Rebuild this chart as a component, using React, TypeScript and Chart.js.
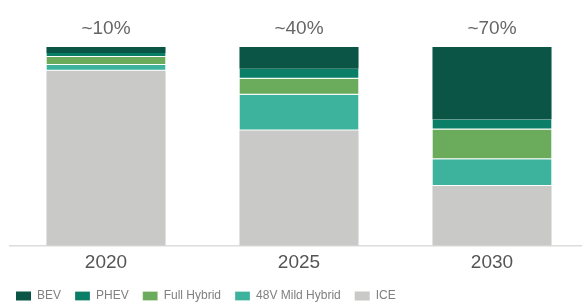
import React, { useEffect, useRef } from "react";
import { Chart, registerables } from "chart.js";

Chart.register(...registerables);

const categories = ["2020", "2025", "2030"];
const topLabels = ["~10%", "~40%", "~70%"];
const seriesNames = ["ICE", "48V Mild Hybrid", "Full Hybrid", "PHEV", "BEV"];
const iceValues = [88, 58, 30];
const mildHybridValues = [3, 18, 13.5];
const fullHybridValues = [4, 8, 15];
const phevValues = [2, 5, 5];
const bevValues = [3, 11, 36.5];
const seriesColors = ["#c9c9c8", "#3db39e", "#6aac5b", "#0a7e66", "#0a5545"];

const FONT = "'Liberation Sans', Arial, Helvetica, sans-serif";

const topLabelPlugin = {
  id: "topLabels",
  afterDatasetsDraw(chart: any) {
    const { ctx, scales } = chart;
    const x = scales.x;
    ctx.save();
    ctx.font = `19px ${FONT}`;
    ctx.fillStyle = "#666666";
    ctx.textAlign = "center";
    ctx.textBaseline = "middle";
    topLabels.forEach((t, i) => {
      ctx.fillText(t, x.getPixelForValue(i), 29);
    });
    ctx.restore();
  },
};

export default function App() {
  const ref = useRef<HTMLCanvasElement | null>(null);
  useEffect(() => {
    if (!ref.current) return;
    const allValues = [iceValues, mildHybridValues, fullHybridValues, phevValues, bevValues];
    const chart = new Chart(ref.current, {
      type: "bar",
      data: {
        labels: categories,
        datasets: seriesNames.map((name, i) => ({
          label: name,
          data: allValues[i],
          backgroundColor: seriesColors[i],
          borderColor: "#ffffff",
          borderWidth: i === 0 || i === 4 ? 0 : { top: 0, bottom: 1, left: 0, right: 0 },
          borderSkipped: false,
          barPercentage: 0.617,
          categoryPercentage: 1,
        })),
      },
      options: {
        responsive: false,
        animation: false,
        devicePixelRatio: 1,
        layout: { padding: { left: 2, right: 1.5, top: 47, bottom: 0 } },
        plugins: {
          tooltip: { enabled: false },
          legend: {
            position: "bottom",
            align: "start",
            labels: {
              boxWidth: 15,
              boxHeight: 9,
              padding: 14,
              color: "#808080",
              font: { size: 12, family: FONT },
              sort: (a: any, b: any) => b.datasetIndex - a.datasetIndex,
            },
          },
        },
        scales: {
          x: {
            stacked: true,
            grid: { display: false, drawTicks: false },
            border: { display: true, color: "#dcdcdc", width: 1.5 },
            ticks: { color: "#555555", font: { size: 19, family: FONT }, padding: 6 },
            afterFit: (scale: any) => {
              scale.height -= 4.5;
            },
          },
          y: {
            stacked: true,
            min: 0,
            max: 100,
            grid: { display: false, drawTicks: false },
            border: { display: false },
            ticks: { display: false },
            afterFit: (scale: any) => {
              scale.width = 7.5;
            },
          },
        },
      },
      plugins: [topLabelPlugin],
    });
    return () => chart.destroy();
  }, []);
  return (
    <div style={{ position: "fixed", left: 0, top: 0, width: 582, height: 304, overflow: "hidden", background: "#fff" }}>
      <canvas ref={ref} width={590} height={312} style={{ display: "block", width: 590, height: 312 }} />
    </div>
  );
}
